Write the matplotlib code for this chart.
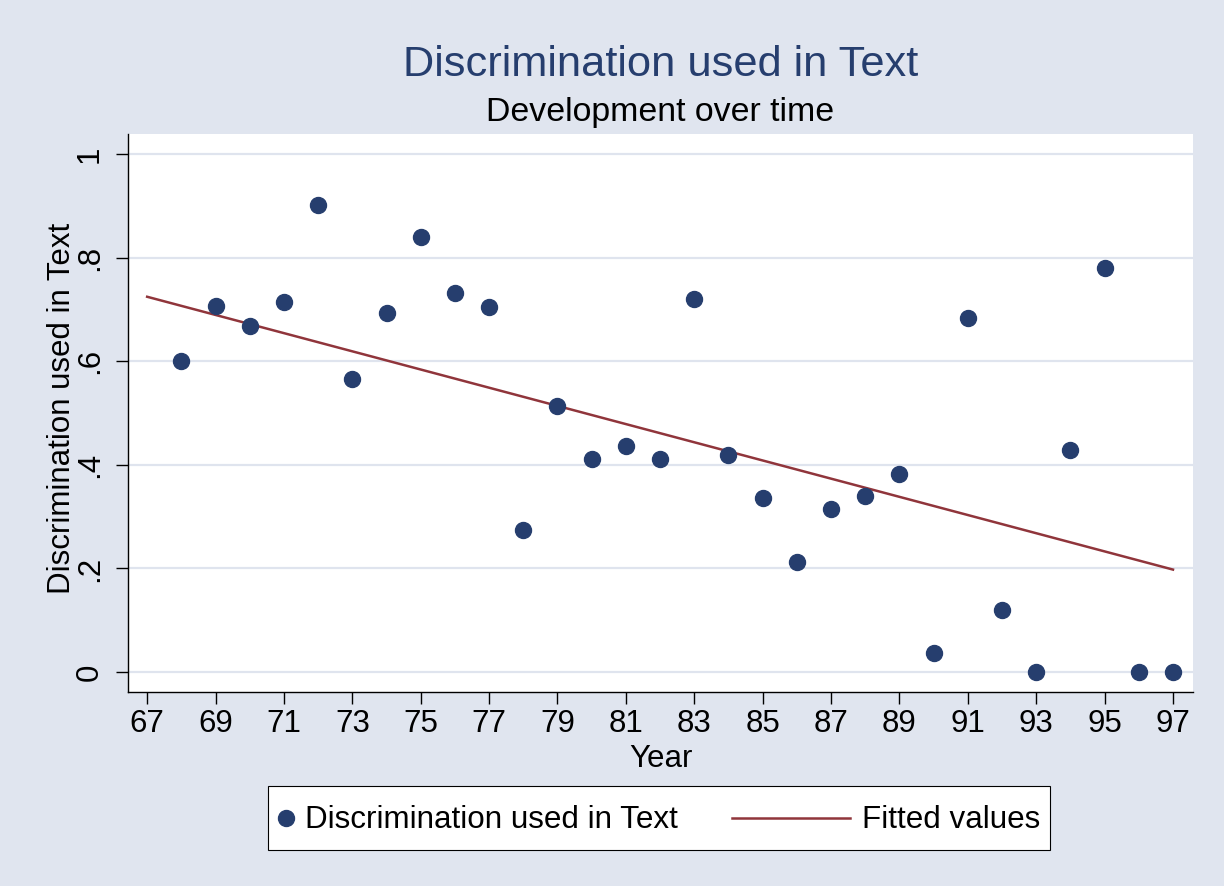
import matplotlib
matplotlib.use('Agg')
import matplotlib.pyplot as plt
from matplotlib.legend_handler import HandlerLine2D

# share of texts using discrimination, by year
years = [68, 69, 70, 71, 72, 73, 74, 75, 76, 77,
         78, 79, 80, 81, 82, 83, 84, 85, 86, 87,
         88, 89, 90, 91, 92, 93, 94, 95, 96, 97]
discrimination = [0.600, 0.706, 0.667, 0.714, 0.901, 0.565, 0.693, 0.840, 0.732, 0.705,
                  0.274, 0.514, 0.411, 0.436, 0.412, 0.720, 0.418, 0.335, 0.212, 0.315,
                  0.339, 0.382, 0.037, 0.683, 0.120, 0.000, 0.428, 0.779, 0.000, 0.000]

# linear fit as drawn in the chart
fit_years = [67, 97]
fit_values = [0.7244, 0.1977]

xticks = list(range(67, 98, 2))
yticks = [0, 0.2, 0.4, 0.6, 0.8, 1]
ytick_labels = ['0', '.2', '.4', '.6', '.8', '1']

navy = '#263e6e'
maroon = '#90353b'
bg = '#e0e5ef'
grid = '#dfe4ee'


class ShiftedHandler(HandlerLine2D):
    """Legend handle stretched to the left by `extra` and moved down by `down` (points)."""
    def __init__(self, extra=0, down=0, **kw):
        super().__init__(**kw)
        self.extra = extra
        self.down = down

    def create_artists(self, legend, orig_handle, xdescent, ydescent,
                       width, height, fontsize, trans):
        return super().create_artists(legend, orig_handle,
                                      xdescent + self.extra,
                                      ydescent + 2 * self.down,
                                      width + self.extra, height,
                                      fontsize, trans)


plt.rcParams['font.family'] = ['Liberation Sans', 'DejaVu Sans']

fig = plt.figure(figsize=(12.24, 8.86), dpi=100, facecolor=bg)
ax = fig.add_axes([128 / 1224, 1 - 692 / 886, (1193 - 128) / 1224, (692 - 134) / 886])
ax.set_facecolor('white')

for y in yticks:
    ax.axhline(y, color=grid, lw=1.6, zorder=0)

pts, = ax.plot(years, discrimination, 'o', ms=11.5, color=navy, mec=navy,
               ls='none', zorder=3, label='Discrimination used in Text')
fit, = ax.plot(fit_years, fit_values, color=maroon, lw=1.8, zorder=2,
               label='Fitted values')

ax.set_xlim(66.44, 97.585)
ax.set_ylim(-0.0386, 1.0386)
ax.set_xticks(xticks)
ax.set_xticklabels([str(x) for x in xticks])
ax.set_yticks(yticks)
ax.set_yticklabels(ytick_labels, rotation=90, va='center')

for side in ['top', 'right']:
    ax.spines[side].set_visible(False)
for side in ['left', 'bottom']:
    ax.spines[side].set_linewidth(1.0)
    ax.spines[side].set_color('black')

ax.tick_params(axis='both', labelsize=22.5, length=8.5, width=1.0, color='black')
ax.tick_params(axis='x', pad=4)
ax.tick_params(axis='y', pad=8)

ax.set_xlabel('Year', fontsize=22.5, labelpad=3)
ax.set_ylabel('Discrimination used in Text', fontsize=22.5, labelpad=0)
ax.yaxis.set_label_coords(-0.048, 0.508)

cx = (128 + 1193) / 2 / 1224
fig.text(cx, 1 - 76 / 886, 'Discrimination used in Text', fontsize=31.2,
         color=navy, ha='center', va='baseline')
fig.text(cx, 1 - 121 / 886, 'Development over time', fontsize=24.4,
         color='black', ha='center', va='baseline')

leg = fig.legend(handles=[pts, fit], loc='center',
                 bbox_to_anchor=(659 / 1224, 1 - 818 / 886),
                 ncol=2, fontsize=22.6, frameon=True, fancybox=False,
                 handlelength=0.5, handleheight=1.8, handletextpad=0.37,
                 borderpad=0.3, columnspacing=5.0, numpoints=1,
                 handler_map={pts: ShiftedHandler(down=4.3),
                              fit: ShiftedHandler(extra=74, down=4.3)})
frame = leg.get_frame()
frame.set_facecolor('white')
frame.set_edgecolor('black')
frame.set_linewidth(0.8)
frame.set_alpha(1)

fig.savefig('out.png', dpi=100, facecolor=bg)
